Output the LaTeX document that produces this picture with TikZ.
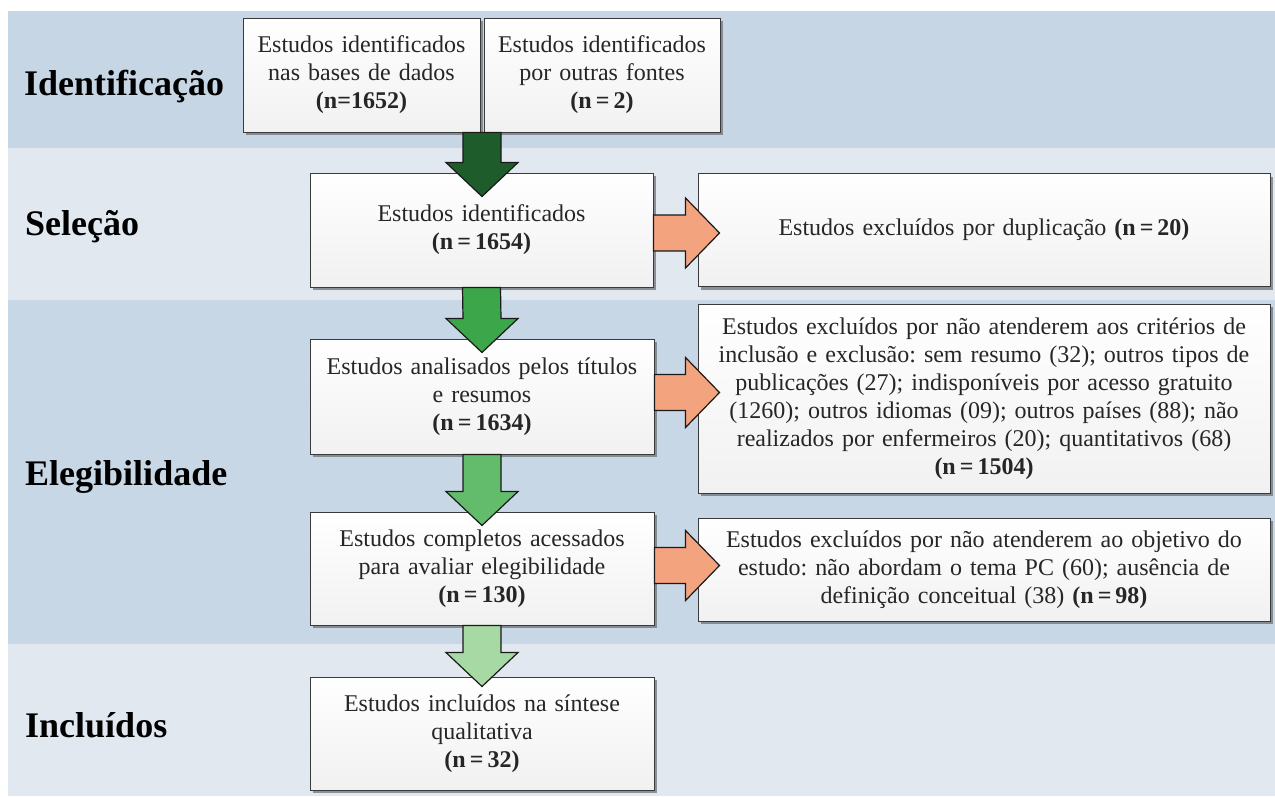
\documentclass[tikz,border=0pt]{standalone}
\usepackage{fontspec}
\setmainfont{Liberation Serif}
\usetikzlibrary{calc,shadows}
\frenchspacing
\definecolor{bandA}{HTML}{C6D6E5}
\definecolor{bandB}{HTML}{E1E8F0}
\definecolor{bandC}{HTML}{C7D7E5}
\definecolor{boxline}{HTML}{3A3A3A}
\definecolor{boxbot}{HTML}{F1F1F1}
\definecolor{shadowc}{HTML}{6E7378}
\definecolor{textc}{HTML}{262626}
\definecolor{arrowline}{HTML}{1A1A1A}
\definecolor{greenA}{HTML}{1F5C2C}
\definecolor{greenB}{HTML}{3CA64B}
\definecolor{greenC}{HTML}{62BC6C}
\definecolor{greenD}{HTML}{A6D9A3}
\definecolor{orangec}{HTML}{F4A37F}
\newcommand\vblock[3]{%
  \draw[blockarrow, fill=#3] ($(#1)+(-19,0)$) -- ($(#2)+(-19,-34)$) -- ($(#2)+(-36,-34)$) -- (#2)
    -- ($(#2)+(36,-34)$) -- ($(#2)+(19,-34)$) -- ($(#1)+(19,0)$) -- cycle;}
\newcommand\hblock[2]{%
  \draw[blockarrow, fill=orangec] ($(#1)+(0,-18)$) -- ($(#2)+(-34,-18)$) -- ($(#2)+(-34,-35)$) -- (#2)
    -- ($(#2)+(-34,35)$) -- ($(#2)+(-34,18)$) -- ($(#1)+(0,18)$) -- cycle;}
\begin{document}
\begin{tikzpicture}[x=1pt,y=-1pt,
  box/.style={draw=boxline, line width=1pt, top color=white, bottom color=boxbot,
    drop shadow={shadow xshift=2.5pt, shadow yshift=-3pt, fill=shadowc, opacity=0.75},
    inner sep=0pt, align=center, font=\fontsize{24}{28}\selectfont, text=textc},
  lab/.style={anchor=base west, inner sep=0pt, font=\fontsize{36}{40}\selectfont\bfseries, text=black},
  blockarrow/.style={draw=arrowline, line width=1.2pt, line join=miter}]
\useasboundingbox (0,0) rectangle (1275,796);
\fill[white] (0,0) rectangle (1275,796);
% bands
\fill[bandA] (8,11) rectangle (1275,148);
\fill[bandB] (8,148) rectangle (1275,300);
\fill[bandC] (8,300) rectangle (1275,644);
\fill[bandB] (8,644) rectangle (1275,796);
% labels
\node[lab] (l1) at (24,95) {Identificação};
\node[lab] (l2) at (25,235) {Seleção};
\node[lab] (l3) at (25,485) {Elegibilidade};
\node[lab] (l4) at (25,737) {Incluídos};
% boxes
\node[box, minimum width=237pt, minimum height=114pt, text width=227pt] (idb) at (361.5,75)
  {Estudos identificados\\nas bases de dados\\\textbf{(n=1652)}};
\node[box, minimum width=236pt, minimum height=114pt, text width=226pt] (oth) at (602,75)
  {Estudos identificados\\por outras fontes\\\textbf{(n\,=\,2)}};
\node[box, minimum width=343pt, minimum height=114pt, text width=333pt] (idsel) at (481.5,230)
  {Estudos identificados\\\textbf{(n\,=\,1654)}};
\node[box, minimum width=572pt, minimum height=113pt, text width=560pt] (dup) at (984,230)
  {Estudos excluídos por duplicação \textbf{(n\,=\,20)}};
\node[box, minimum width=344pt, minimum height=115pt, text width=334pt] (an) at (482,396.5)
  {Estudos analisados pelos títulos\\e resumos\\\textbf{(n\,=\,1634)}};
\node[box, minimum width=572pt, minimum height=189pt, text width=560pt] (crit) at (984,398.5)
  {Estudos excluídos por não atenderem aos critérios de\\
   inclusão e exclusão: sem resumo (32); outros tipos de\\
   publicações (27); indisponíveis por acesso gratuito\\
   (1260); outros idiomas (09); outros países (88); não\\
   realizados por enfermeiros (20); quantitativos (68)\\
   \textbf{(n\,=\,1504)}};
\node[box, minimum width=344pt, minimum height=113pt, text width=334pt] (comp) at (482,568.5)
  {Estudos completos acessados\\para avaliar elegibilidade\\\textbf{(n\,=\,130)}};
\node[box, minimum width=572pt, minimum height=103pt, text width=560pt] (obj) at (984,569.5)
  {Estudos excluídos por não atenderem ao objetivo do\\
   estudo: não abordam o tema PC (60); ausência de\\
   definição conceitual (38) \textbf{(n\,=\,98)}};
\node[box, minimum width=344pt, minimum height=113pt, text width=334pt] (inc) at (482,733.5)
  {Estudos incluídos na síntese\\qualitativa\\\textbf{(n\,=\,32)}};
% vertical block arrows
\coordinate (a1s) at ($(idb.south east)!0.5!(oth.south west)$);
\coordinate (a1t) at ($(a1s |- idsel.north)+(0,24)$);
\vblock{a1s}{a1t}{greenA}
\coordinate (a2s) at (idsel.south);
\coordinate (a2t) at ($(an.north)+(0,14)$);
\vblock{a2s}{a2t}{greenB}
\coordinate (a3s) at (an.south);
\coordinate (a3t) at ($(comp.north)+(0,14)$);
\vblock{a3s}{a3t}{greenC}
\coordinate (a4s) at (comp.south);
\coordinate (a4t) at ($(inc.north)+(0,10)$);
\vblock{a4s}{a4t}{greenD}
% horizontal block arrows
\coordinate (o1s) at ($(idsel.east)+(0,3)$);
\coordinate (o1t) at ($(o1s -| dup.west)+(22,0)$);
\hblock{o1s}{o1t}
\coordinate (o2s) at ($(an.east)+(0,-4)$);
\coordinate (o2t) at ($(o2s -| crit.west)+(22,0)$);
\hblock{o2s}{o2t}
\coordinate (o3s) at ($(comp.east)+(0,-3)$);
\coordinate (o3t) at ($(o3s -| obj.west)+(22,0)$);
\hblock{o3s}{o3t}
\end{tikzpicture}
\end{document}
